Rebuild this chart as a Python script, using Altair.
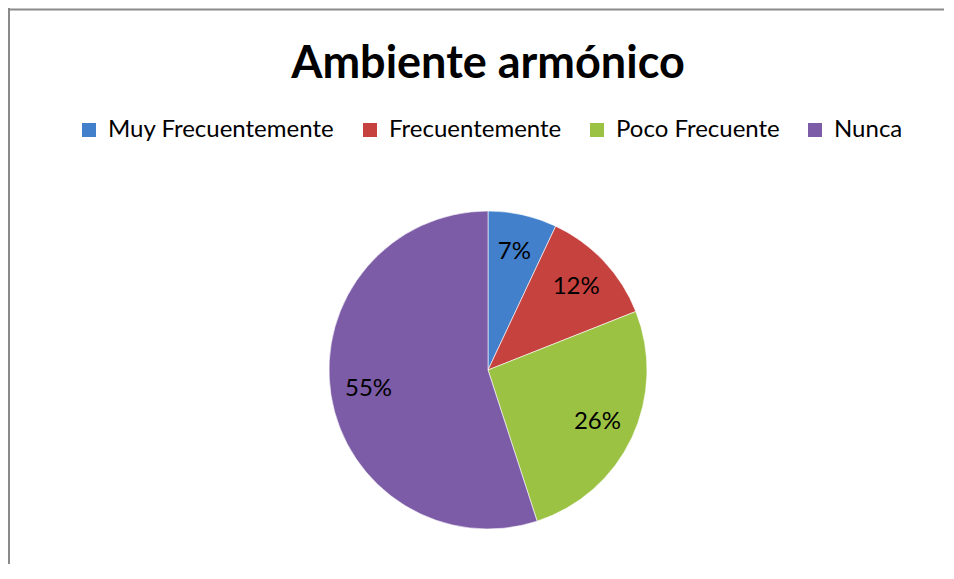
import altair as alt
import pandas as pd

categories = ["Muy Frecuentemente", "Frecuentemente", "Poco Frecuente", "Nunca"]
values = [7, 12, 26, 55]
labels = ["7%", "12%", "26%", "55%"]
colors = ["#4280CC", "#C6423F", "#9CC244", "#7C5BA7"]
title_text = "Ambiente armónico"

df = pd.DataFrame({"cat": categories, "val": values, "lab": labels, "ord": list(range(len(categories)))})

FONT = "Lato"
W, H = 938, 556
CX, CY, R = 480, 362, 159

base = alt.Chart(df).encode(
    theta=alt.Theta("val:Q", stack=True),
    order=alt.Order("ord:Q"),
)

arcs = base.mark_arc(outerRadius=R, stroke="#ffffff", strokeWidth=1, strokeOpacity=0.6).encode(
    x=alt.value(CX), y=alt.value(CY),
    color=alt.Color(
        "cat:N",
        scale=alt.Scale(domain=categories, range=colors),
        sort=categories,
        legend=alt.Legend(
            title=None, orient="none", direction="horizontal",
            legendX=69, legendY=110,
            symbolType="square", symbolSize=196, symbolStrokeWidth=0,
            labelFont=FONT, labelFontSize=24, labelColor="#000000",
            labelOffset=7, columnPadding=23, labelLimit=400,
        ),
    ),
)

texts = base.mark_text(radius=121, font=FONT, fontSize=24, color="#000000").encode(
    x=alt.value(CX), y=alt.value(CY), text="lab:N"
)

title = alt.Chart(pd.DataFrame({"t": [title_text]})).mark_text(
    font=FONT, fontSize=45, fontWeight="bold", color="#000000", baseline="alphabetic", align="center"
).encode(x=alt.value(480), y=alt.value(70), text="t:N")

border = alt.Chart(pd.DataFrame({"a": [0]})).mark_rule(color="#8a8a8a", strokeWidth=2, strokeCap="butt")
top_line = border.encode(x=alt.value(0), x2=alt.value(W - 2), y=alt.value(1.5), y2=alt.value(1.5))
left_line = border.encode(x=alt.value(1), x2=alt.value(1), y=alt.value(0), y2=alt.value(H))

chart = alt.layer(top_line, left_line, arcs, texts, title).properties(
    width=W, height=H, padding=0, autosize=alt.AutoSizeParams(type="none"),
    background="#ffffff",
).configure_view(stroke=None, strokeWidth=0, fill="#ffffff")

chart.save("out.html", embed_options={"renderer": "svg", "actions": False})
